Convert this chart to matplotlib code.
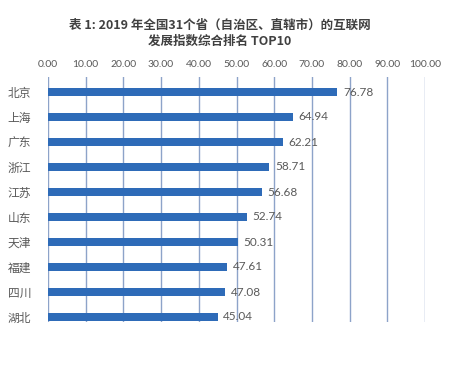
import matplotlib.pyplot as plt
import numpy as np

plt.rcParams['font.family'] = ['Noto Sans CJK SC', 'DejaVu Sans']

provinces = ['北京', '上海', '广东', '浙江', '江苏', '山东', '天津', '福建', '四川', '湖北']
scores = [76.78, 64.94, 62.21, 58.71, 56.68, 52.74, 50.31, 47.61, 47.08, 45.04]
ticks = [0, 10, 20, 30, 40, 50, 60, 70, 80, 90, 100]

title = '表 1: 2019 年全国31个省（自治区、直辖市）的互联网\n发展指数综合排名 TOP10'

bar_color = '#2E6BB8'
grid_color = '#8DA3C9'
text_color = '#595959'

fig = plt.figure(figsize=(4.51, 3.71), dpi=100)
ax = fig.add_axes([48/451, 1 - 322/371, (425-48)/451, (322-77)/371])

y = np.arange(len(provinces))
ax.barh(y, scores, height=0.33, color=bar_color, zorder=3)

for yi, v in zip(y, scores):
    ax.annotate('%.2f' % v, (v, yi), xytext=(4, 0), textcoords='offset points',
                va='center', ha='left', fontsize=8.5, color=text_color,
                family=['Lato', 'DejaVu Sans'], zorder=4)

ax.set_xlim(0, 100)
ax.set_ylim(9.2, -0.6)
ax.set_xticks(ticks)
ax.set_xticklabels(['%.2f' % t for t in ticks], family=['Lato', 'DejaVu Sans'])
ax.xaxis.tick_top()
ax.tick_params(axis='x', length=0, pad=6, labelsize=7.5, colors=text_color)
ax.set_yticks(y)
ax.set_yticklabels(provinces)
ax.tick_params(axis='y', length=0, pad=12, labelsize=8.5, colors=text_color)

ax.grid(axis='x', color=grid_color, linewidth=1, zorder=1)
for s in ax.spines.values():
    s.set_visible(False)

fig.text(0.488, 1 - 33/371, title, ha='center', va='center', fontsize=9,
         fontweight='bold', color='#404040', linespacing=1.3)

fig.savefig('out.png', dpi=100)
